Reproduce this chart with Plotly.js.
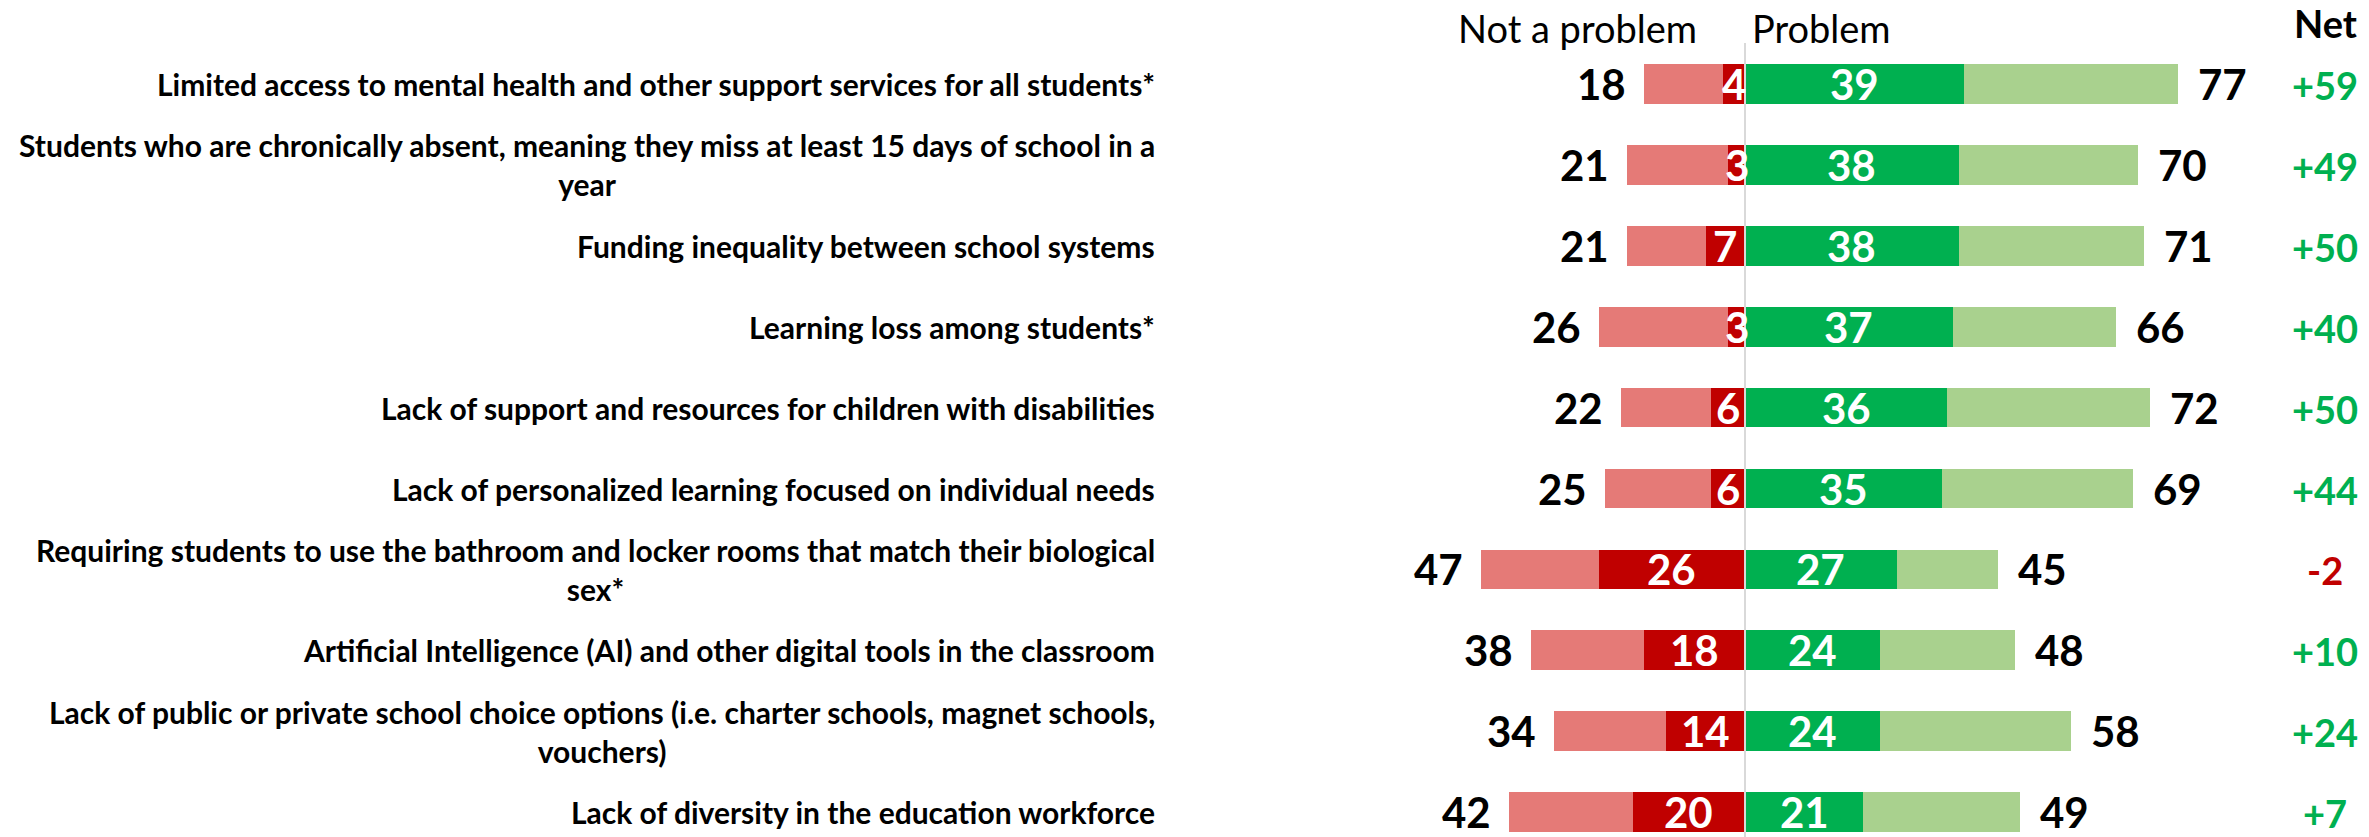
<!DOCTYPE html>
<html>
<head>
<meta charset="utf-8">
<script src="https://cdn.plot.ly/plotly-3.0.1.min.js"></script>
<style>
  html, body { margin: 0; padding: 0; background: #ffffff; }
  #chart { width: 2369px; height: 837px; }
</style>
</head>
<body>
<div id="chart"></div>
<script>
// Survey items, top to bottom
const categories = [
  "Limited access to mental health and other support services for all students*",
  "Students who are chronically absent, meaning they miss at least 15 days of school in a<br>year",
  "Funding inequality between school systems",
  "Learning loss among students*",
  "Lack of support and resources for children with disabilities",
  "Lack of personalized learning focused on individual needs",
  "Requiring students to use the bathroom and locker rooms that match their biological<br>sex*",
  "Artificial Intelligence (AI) and other digital tools in the classroom",
  "Lack of public or private school choice options (i.e. charter schools, magnet schools,<br>vouchers)",
  "Lack of diversity in the education workforce"
];

// "Not a problem": total and the strong part of it
const notProblemTotal  = [18, 21, 21, 26, 22, 25, 47, 38, 34, 42];
const notProblemStrong = [4, 3, 7, 3, 6, 6, 26, 18, 14, 20];

// "Problem": strong part and total
const problemStrong = [39, 38, 38, 37, 36, 35, 27, 24, 24, 21];
const problemTotal  = [77, 70, 71, 66, 72, 69, 45, 48, 58, 49];

// Net (Problem minus Not a problem)
const netValues = [59, 49, 50, 40, 50, 44, -2, 10, 24, 7];

const C = {
  lightRed: "#E57A77",
  darkRed: "#C00000",
  darkGreen: "#00B050",
  lightGreen: "#A9D18E",
  centerLine: "#D9D9D9"
};

const FONT = "Lato, 'Open Sans', Arial, sans-serif";

// Remainders that sit on the outer end of each stack
const notProblemRest = notProblemTotal.map((t, i) => t - notProblemStrong[i]);
const problemRest = problemTotal.map((t, i) => t - problemStrong[i]);

const barWidth = 0.49;

const traces = [
  { type: "bar", orientation: "h", y: categories, x: notProblemStrong.map(v => -v),
    marker: { color: C.darkRed, line: { width: 0 } }, width: barWidth, hoverinfo: "skip" },
  { type: "bar", orientation: "h", y: categories, x: notProblemRest.map(v => -v),
    marker: { color: C.lightRed, line: { width: 0 } }, width: barWidth, hoverinfo: "skip" },
  { type: "bar", orientation: "h", y: categories, x: problemStrong,
    marker: { color: C.darkGreen, line: { width: 0 } }, width: barWidth, hoverinfo: "skip" },
  { type: "bar", orientation: "h", y: categories, x: problemRest,
    marker: { color: C.lightGreen, line: { width: 0 } }, width: barWidth, hoverinfo: "skip" }
];

const annotations = [];

categories.forEach((cat, i) => {
  // Row label, right-anchored block with centred lines
  annotations.push({
    xref: "paper", yref: "y", x: 1157 / 2369, y: cat, xanchor: "right", yanchor: "middle",
    text: cat, align: "center", showarrow: false,
    font: { family: FONT, size: 30, color: "#000000", weight: "bold" }
  });
  // Totals on both outer ends
  annotations.push({
    xref: "x", yref: "y", x: -notProblemTotal[i], y: cat, xanchor: "right", yanchor: "middle",
    xshift: -16, text: String(notProblemTotal[i]), showarrow: false,
    font: { family: FONT, size: 42, color: "#000000", weight: "bold" }
  });
  annotations.push({
    xref: "x", yref: "y", x: problemTotal[i], y: cat, xanchor: "left", yanchor: "middle",
    xshift: 18, text: String(problemTotal[i]), showarrow: false,
    font: { family: FONT, size: 42, color: "#000000", weight: "bold" }
  });
  // Strong-segment values inside the bars
  annotations.push({
    xref: "x", yref: "y", x: -notProblemStrong[i] / 2, y: cat, xanchor: "center", yanchor: "middle",
    text: String(notProblemStrong[i]), showarrow: false,
    font: { family: FONT, size: 42, color: "#FFFFFF", weight: "bold" }
  });
  annotations.push({
    xref: "x", yref: "y", x: problemStrong[i] / 2, y: cat, xanchor: "center", yanchor: "middle",
    text: String(problemStrong[i]), showarrow: false,
    font: { family: FONT, size: 42, color: "#FFFFFF", weight: "bold" }
  });
  // Net column
  const n = netValues[i];
  annotations.push({
    xref: "paper", yref: "y", x: 2325 / 2369, y: cat, xanchor: "center", yanchor: "middle",
    yshift: -1, text: (n > 0 ? "+" : "") + n, showarrow: false,
    font: { family: FONT, size: 38, color: n >= 0 ? C.darkGreen : C.darkRed, weight: "bold" }
  });
});

// Column headers
annotations.push({
  xref: "x", yref: "paper", x: 0, y: 1 - 28 / 837, xanchor: "right", yanchor: "middle",
  xshift: -46, text: "Not a problem", showarrow: false,
  font: { family: FONT, size: 38, color: "#000000" }
});
annotations.push({
  xref: "x", yref: "paper", x: 0, y: 1 - 28 / 837, xanchor: "left", yanchor: "middle",
  xshift: 5, text: "Problem", showarrow: false,
  font: { family: FONT, size: 38, color: "#000000" }
});
annotations.push({
  xref: "paper", yref: "paper", x: 2325 / 2369, y: 1 - 23 / 837, xanchor: "center", yanchor: "middle",
  text: "Net", showarrow: false,
  font: { family: FONT, size: 38, color: "#000000", weight: "bold" }
});

// Pixel mapping: zero at x=1745px, 5.62px per point; rows 80.9px apart, first at 84px
const pxPerUnit = 5.62, zeroPx = 1745, W = 2369, H = 837;
const rowStep = 80.9, firstRow = 84;

const layout = {
  width: W, height: H,
  margin: { l: 0, r: 0, t: 0, b: 0, pad: 0 },
  paper_bgcolor: "#ffffff", plot_bgcolor: "#ffffff",
  barmode: "relative",
  bargap: 0,
  showlegend: false,
  hovermode: false,
  xaxis: {
    range: [-zeroPx / pxPerUnit, (W - zeroPx) / pxPerUnit],
    showgrid: false, zeroline: false, showticklabels: false, showline: false, ticks: ""
  },
  yaxis: {
    type: "category",
    range: [(H - firstRow) / rowStep, -firstRow / rowStep],
    showgrid: false, zeroline: false, showticklabels: false, showline: false, ticks: ""
  },
  shapes: [{
    type: "line", xref: "x", yref: "paper", x0: 0, x1: 0, y0: 0, y1: 1 - 43 / 837,
    line: { color: C.centerLine, width: 2 }, layer: "above"
  }],
  annotations: annotations
};

Plotly.newPlot("chart", traces, layout, { displayModeBar: false, staticPlot: true });
</script>
</body>
</html>
